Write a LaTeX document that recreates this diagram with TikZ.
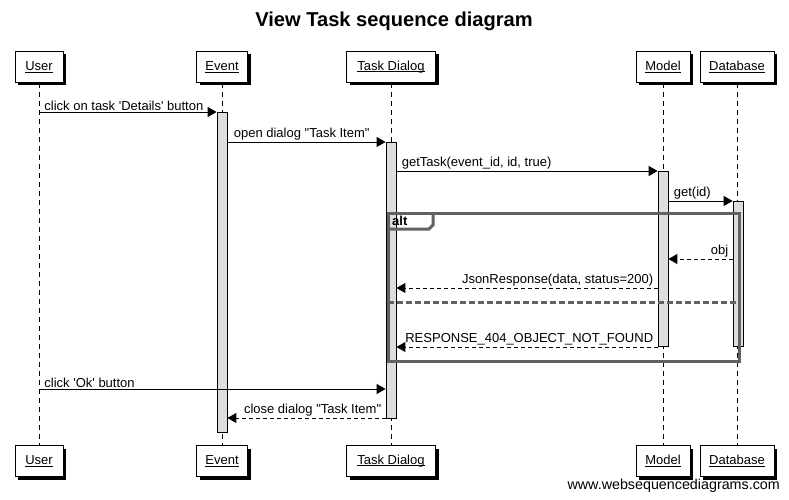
\documentclass[tikz,border=0pt]{standalone}
\usepackage{fontspec}
\setmainfont{Liberation Sans}[Ligatures=TeXOff]
\usetikzlibrary{arrows.meta,shadows,calc}
\newcommand\hul[1]{\setbox0\hbox{#1}\rlap{\copy0}\rule[-2pt]{\wd0}{0.9pt}}
\begin{document}
\begin{tikzpicture}[x=1pt,y=-1pt,
  every node/.style={font=\fontsize{13}{15}\selectfont},
  head/.style={draw=black,fill=white,minimum height=31pt,inner sep=0pt,line width=0.8pt,
    drop shadow={shadow xshift=3pt,shadow yshift=-3pt,fill=black,opacity=1}},
  life/.style={draw=black,dash pattern=on 5pt off 4pt,line width=0.8pt},
  act/.style={draw=black,fill=black!13,minimum width=10pt,inner sep=0pt,anchor=north,line width=0.8pt},
  msg/.style={draw=black,line width=0.9pt,-{Triangle[length=9pt,width=10pt]}},
  ret/.style={msg,dash pattern=on 4pt off 3pt},
  lbl/.style={inner sep=1pt,anchor=south west},
  rlbl/.style={inner sep=1pt,anchor=south east},
  frame/.style={draw=black!62,line width=3pt}]
\useasboundingbox (0,0) rectangle (789,500);
% title
\node[font=\fontsize{20.1}{23}\bfseries] (title) at (394,21) {View Task sequence diagram};
% heads
\node[head,minimum width=48pt] (uT) at (39,67) {\hul{User}};
\node[head,minimum width=51pt] (eT) at (222,67) {\hul{Event}};
\node[head,minimum width=89pt] (tT) at (391,67) {\hul{Task Dialog}};
\node[head,minimum width=54pt] (mT) at (663,67) {\hul{Model}};
\node[head,minimum width=74pt] (dT) at (737,67) {\hul{Database}};
% feet
\node[head,minimum width=48pt] (uB) at (39,461) {\hul{User}};
\node[head,minimum width=51pt] (eB) at (222,461) {\hul{Event}};
\node[head,minimum width=89pt] (tB) at (391,461) {\hul{Task Dialog}};
\node[head,minimum width=54pt] (mB) at (663,461) {\hul{Model}};
\node[head,minimum width=74pt] (dB) at (737,461) {\hul{Database}};
% lifelines
\draw[life] (uT.south) -- (uB.north);
\draw[life] (eT.south) -- (eB.north);
\draw[life] (tT.south) -- (tB.north);
\draw[life] (mT.south) -- (mB.north);
\draw[life] (dT.south) -- (dB.north);
% activations
\node[act,minimum height=320pt] (eA) at (222,112) {};
\node[act,minimum height=276pt] (tA) at (391,142) {};
\node[act,minimum height=175pt] (mA) at (663,171) {};
\node[act,minimum height=145pt] (dA) at (738,201) {};
% alt frame
\draw[frame] (388,213) rectangle (739,361);
\draw[frame] (388,229) -- (429,229) -- (433,225) -- (433,213);
\node[font=\fontsize{13}{15}\bfseries,anchor=west,inner sep=0pt] (alt) at (392,221) {alt};
\draw[frame,dash pattern=on 6pt off 3pt] (388,302) -- (739,302);
% messages
\draw[msg] (uT.south |- 0,112) -- node[lbl,pos=0,xshift=4pt] (m1) {click on task 'Details' button} (eA.west |- 0,112);
\draw[msg] (eA.east |- 0,142) -- node[lbl,pos=0,xshift=5pt] (m2) {open dialog "Task Item"} (tA.west |- 0,142);
\draw[msg] (tA.east |- 0,171) -- node[lbl,pos=0,xshift=4pt] (m3) {getTask(event\_id, id, true)} (mA.west |- 0,171);
\draw[msg] (mA.east |- 0,201) -- node[lbl,pos=0,xshift=4pt] (m4) {get(id)} (dA.west |- 0,201);
\draw[ret] (dA.west |- 0,259) -- node[rlbl,pos=0,xshift=-3pt] (m5) {obj} (mA.east |- 0,259);
\draw[ret] (mA.west |- 0,288) -- node[rlbl,pos=0,xshift=-3pt] (m6) {JsonResponse(data, status=200)} (tA.east |- 0,288);
\draw[ret] (mA.west |- 0,347) -- node[rlbl,pos=0,xshift=-3pt] (m7) {RESPONSE\_404\_OBJECT\_NOT\_FOUND} (tA.east |- 0,347);
\draw[msg] (uT.south |- 0,389) -- node[lbl,pos=0,xshift=4pt] (m8) {click 'Ok' button} (tA.west |- 0,389);
\draw[ret] (tA.west |- 0,418) -- node[rlbl,pos=0,xshift=-3pt] (m9) {close dialog "Task Item"} (eA.east |- 0,418);
% footer
\node[anchor=east,font=\fontsize{14.3}{16}\selectfont,inner sep=0pt] (foot) at (780,486) {www.websequencediagrams.com};
\end{tikzpicture}
\end{document}
